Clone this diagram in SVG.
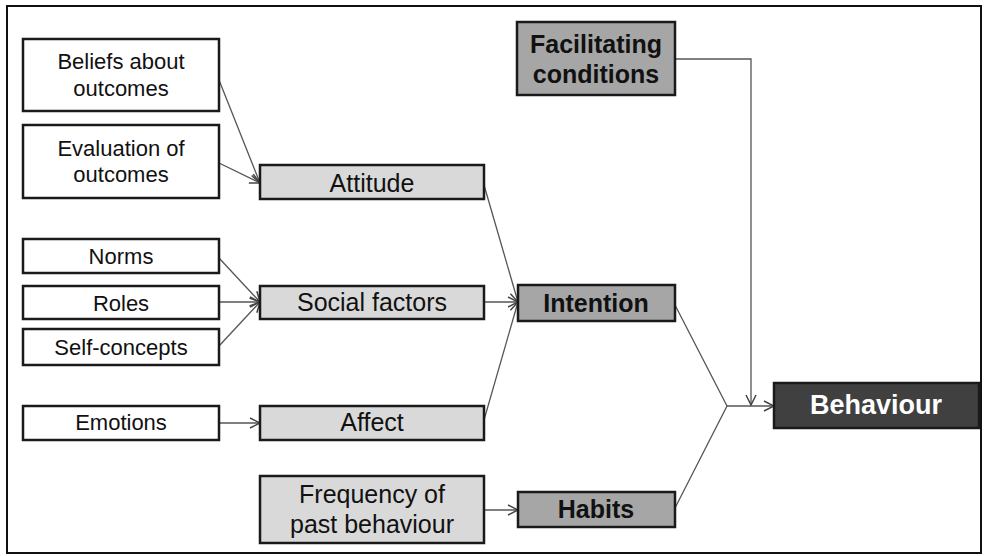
<svg xmlns="http://www.w3.org/2000/svg" width="984" height="556" viewBox="0 0 984 556">
<style>
.b{stroke:#1a1a1a;stroke-width:2.5}
.w{fill:#ffffff}
.l{fill:#d9d9d9}
.m{fill:#a6a6a6}
.d{fill:#404040}
text{font-family:"Liberation Sans",Arial,sans-serif;text-anchor:middle;fill:#111}
.s{font-size:22px}
.t{font-size:25px}
.bt{font-size:25px;font-weight:bold}
.c{fill:none;stroke:#555;stroke-width:1.3}
</style>
<defs>
<marker id="a" viewBox="0 0 12 12" refX="11" refY="6" markerWidth="12" markerHeight="12" markerUnits="userSpaceOnUse" orient="auto">
<path d="M1,1 L11,6 L1,11" fill="none" stroke="#444" stroke-width="1.5"/>
</marker>
</defs>
<rect x="0" y="0" width="984" height="556" fill="#fff"/>
<rect x="7" y="6" width="974" height="547" fill="none" stroke="#111" stroke-width="2"/>
<g id="connectors">
<line class="c" x1="219" y1="80" x2="260" y2="183" marker-end="url(#a)"/>
<line class="c" x1="219" y1="163" x2="260" y2="183" marker-end="url(#a)"/>
<line class="c" x1="219" y1="258" x2="260" y2="302" marker-end="url(#a)"/>
<line class="c" x1="219" y1="302" x2="260" y2="302" marker-end="url(#a)"/>
<line class="c" x1="219" y1="346" x2="260" y2="302" marker-end="url(#a)"/>
<line class="c" x1="219" y1="423" x2="260" y2="423" marker-end="url(#a)"/>
<line class="c" x1="484" y1="185" x2="518" y2="302" marker-end="url(#a)"/>
<line class="c" x1="484" y1="302" x2="518" y2="302" marker-end="url(#a)"/>
<line class="c" x1="484" y1="420" x2="518" y2="302" marker-end="url(#a)"/>
<line class="c" x1="484" y1="510" x2="518" y2="510" marker-end="url(#a)"/>
<polyline class="c" points="675,305 727,406 675,508"/>
<line class="c" x1="727" y1="406" x2="774" y2="406" marker-end="url(#a)"/>
<polyline class="c" points="675,59 751,59 751,405" marker-end="url(#a)"/>
</g>
<g id="beliefs"><rect class="b w" x="23" y="39" width="196" height="72"/><text class="s" x="121" y="69">Beliefs about</text><text class="s" x="121" y="96">outcomes</text></g>
<g id="evaluation"><rect class="b w" x="23" y="125" width="196" height="73"/><text class="s" x="121" y="156">Evaluation of</text><text class="s" x="121" y="182">outcomes</text></g>
<g id="norms"><rect class="b w" x="23" y="239" width="196" height="34"/><text class="s" x="121" y="264">Norms</text></g>
<g id="roles"><rect class="b w" x="23" y="286" width="196" height="33"/><text class="s" x="121" y="311">Roles</text></g>
<g id="selfconcepts"><rect class="b w" x="23" y="329" width="196" height="36"/><text class="s" x="121" y="355">Self-concepts</text></g>
<g id="emotions"><rect class="b w" x="23" y="406" width="196" height="34"/><text class="s" x="121" y="430">Emotions</text></g>
<g id="attitude"><rect class="b l" x="260" y="165" width="224" height="34"/><text class="t" x="372" y="192">Attitude</text></g>
<g id="social"><rect class="b l" x="260" y="286" width="224" height="33"/><text class="t" x="372" y="311">Social factors</text></g>
<g id="affect"><rect class="b l" x="260" y="406" width="224" height="34"/><text class="t" x="372" y="431">Affect</text></g>
<g id="frequency"><rect class="b l" x="260" y="476" width="224" height="67"/><text class="t" x="372" y="503">Frequency of</text><text class="t" x="372" y="533">past behaviour</text></g>
<g id="facilitating"><rect class="b m" x="517" y="22" width="158" height="73"/><text class="bt" x="596" y="53">Facilitating</text><text class="bt" x="596" y="83">conditions</text></g>
<g id="intention"><rect class="b m" x="518" y="285" width="157" height="36"/><text class="bt" x="596" y="312">Intention</text></g>
<g id="habits"><rect class="b m" x="518" y="492" width="157" height="35"/><text class="bt" x="596" y="518">Habits</text></g>
<g id="behaviour"><rect class="b d" x="774" y="383" width="205" height="45"/><text class="bt" x="876" y="414" style="fill:#fff;font-size:27px">Behaviour</text></g>
</svg>
